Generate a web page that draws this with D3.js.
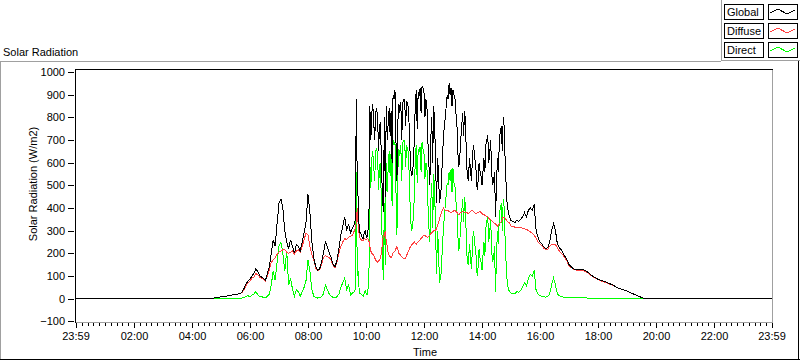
<!DOCTYPE html>
<html>
<head>
<meta charset="utf-8">
<script src="https://cdn.jsdelivr.net/npm/d3@7"></script>
<style>
  html, body { margin: 0; padding: 0; background: #fff; }
  svg { display: block; }
  text { font-family: "Liberation Sans", Arial, sans-serif; font-size: 11px; fill: #000; }
</style>
</head>
<body>
<svg id="chart" width="800" height="361"></svg>
<script>
// ---------------- DATA ----------------
const chartTitle = "Solar Radiation";
const yTitle = "Solar Radiation (W/m2)";
const xTitle = "Time";
const seriesNames = ["Global", "Diffuse", "Direct"];
const seriesColors = ["#000000", "#ff4040", "#00ff00"];
const yTicks = [-100, 0, 100, 200, 300, 400, 500, 600, 700, 800, 900, 1000];
const xTickLabels = ["23:59","02:00","04:00","06:00","08:00","10:00","12:00","14:00","16:00","18:00","20:00","22:00","23:59"];

const times = [
"00:00","04:36","04:40","04:44","04:48","04:52","04:56",
"05:00","05:04","05:08","05:12","05:16","05:20","05:24","05:28","05:32","05:36","05:40","05:44","05:48","05:52","05:56",
"06:00","06:04","06:08","06:12","06:16","06:20","06:24","06:28","06:32","06:36","06:40","06:44","06:48","06:52","06:56",
"07:00","07:04","07:08","07:12","07:16","07:20","07:24","07:28","07:32","07:36","07:40","07:44","07:48","07:52","07:56",
"08:00","08:04","08:08","08:12","08:16","08:20","08:24","08:28","08:32","08:36","08:40","08:44","08:48","08:52","08:56",
"09:00","09:04","09:08","09:12","09:16","09:20","09:24","09:28","09:32",
"09:36","09:38","09:40","09:42","09:44","09:46","09:48","09:50","09:52","09:54","09:56","09:58",
"10:00","10:02","10:04","10:06","10:08","10:10","10:12","10:14","10:16","10:18","10:20","10:22","10:24","10:26","10:28",
"10:30","10:32","10:34","10:36","10:38","10:40","10:42","10:44","10:46","10:48","10:50","10:52","10:54","10:56","10:58",
"11:00","11:02","11:04","11:06","11:08","11:10","11:12","11:14","11:16","11:18","11:20","11:22","11:24","11:26","11:28",
"11:30","11:32","11:34","11:36","11:38","11:40","11:42","11:44","11:46","11:48","11:50","11:52","11:54","11:56","11:58",
"12:00","12:02","12:04","12:06","12:08","12:10","12:12","12:14","12:16","12:18","12:20","12:22","12:24","12:26","12:28",
"12:30","12:32","12:34","12:36","12:38","12:40","12:42","12:44","12:46","12:48","12:50","12:52","12:54","12:56","12:58",
"13:00","13:02","13:04","13:06","13:08","13:10","13:12","13:14","13:16","13:18","13:20","13:22","13:24","13:26","13:28",
"13:30","13:32","13:34","13:36","13:38","13:40","13:42","13:44","13:46","13:48","13:50","13:52","13:54","13:56","13:58",
"14:00","14:02","14:04","14:06","14:08","14:10","14:12","14:14","14:16","14:18","14:20","14:22","14:24","14:26","14:28",
"14:30","14:32","14:34","14:36","14:38","14:40","14:42","14:44","14:46","14:48","14:50","14:52","14:54","14:56","14:58",
"15:00","15:04","15:08","15:12","15:16","15:20","15:24","15:28","15:32","15:36","15:40","15:44","15:48","15:52","15:56",
"16:00","16:04","16:08","16:12","16:16","16:20","16:24","16:28","16:32","16:36","16:40","16:44","16:48","16:52","16:56",
"17:00","17:10","17:20","17:30","17:40","17:50",
"18:00","18:10","18:20","18:30","18:40","18:50",
"19:00","19:10","19:20","19:30","19:36","23:59"
];

const globalVals = [
0,0,0,1,3,5,6,
8,9,10,11,13,14,16,17,18,20,22,30,45,65,78,
85,100,110,130,120,100,95,88,80,110,140,200,260,230,330,
420,440,400,300,250,220,260,230,200,240,230,210,250,290,340,
460,380,250,180,140,125,130,160,200,250,230,200,180,150,140,
170,220,280,320,360,300,330,290,310,
330,350,880,500,440,300,290,285,270,265,285,300,
280,270,300,320,850,700,820,860,780,700,820,840,800,650,760,
780,600,450,380,800,450,850,700,780,840,720,830,600,900,880,
920,700,520,780,860,820,870,700,860,880,880,760,870,860,840,
720,600,540,550,600,700,860,920,750,910,900,930,820,940,930,
910,800,880,860,700,600,500,700,800,600,850,780,600,420,620,
560,420,450,500,620,700,760,800,850,900,880,950,900,930,850,
920,900,890,820,780,650,580,620,700,760,820,720,830,780,600,
540,520,620,580,520,600,680,650,600,560,480,520,600,560,540,
500,560,620,560,680,700,720,600,640,700,560,500,520,560,360,
500,620,560,700,740,760,650,800,760,600,500,420,390,370,355,
345,340,335,345,340,350,360,380,360,390,400,390,415,300,270,
250,240,228,220,225,250,300,330,300,240,225,215,200,185,170,
150,130,127,127,115,97,
85,77,70,60,48,40,
33,23,14,5,0,0
];

const diffuseVals = [
0,0,0,1,3,5,6,
8,9,10,11,13,14,16,17,18,20,21,28,40,58,70,
78,90,95,110,105,95,88,85,78,100,125,160,170,180,195,
205,210,215,215,205,200,205,210,195,210,215,205,230,260,290,
280,230,195,170,135,123,128,150,180,190,185,180,170,145,135,
160,200,230,250,265,260,270,275,280,
300,310,340,400,320,280,265,260,255,255,265,262,
260,262,265,255,230,210,200,195,190,180,170,165,160,165,170,
180,200,250,280,280,300,250,230,200,190,185,180,190,200,205,
210,220,230,215,200,195,190,185,180,178,175,180,190,200,210,
220,230,235,240,245,250,245,240,245,250,255,260,265,270,275,
280,278,275,272,270,275,280,285,290,295,300,300,300,310,320,
335,350,365,380,390,400,395,390,390,390,388,385,382,380,382,
385,388,390,385,380,375,370,375,380,382,385,383,380,380,380,
378,375,380,385,388,390,385,380,378,375,378,380,383,385,380,
375,372,370,368,365,362,360,355,350,348,345,340,335,332,330,
325,320,325,330,335,340,350,360,358,355,348,340,338,335,328,
320,320,315,315,312,314,310,308,305,300,295,288,280,265,250,
240,232,222,215,218,230,240,240,238,225,210,200,190,178,165,
145,127,124,124,112,95,
83,75,68,58,47,40,
33,23,14,5,0,0
];

const directVals = [
0,0,0,0,0,0,0,
0,0,0,0,0,0,0,0,0,0,0,2,5,10,12,
8,15,20,30,18,8,8,5,3,10,20,60,120,80,160,
230,250,200,120,210,60,90,40,10,40,30,10,30,50,80,
170,120,40,10,5,2,3,8,20,60,40,20,10,5,3,
8,20,50,70,90,40,60,15,25,
30,40,560,100,120,30,20,20,15,10,20,35,
25,15,40,60,600,490,620,650,580,520,650,660,640,480,590,
600,400,200,80,420,150,600,470,580,650,540,650,410,700,680,
690,480,280,570,660,630,680,520,690,700,700,580,680,660,640,
500,370,300,310,360,450,620,680,510,660,650,670,560,690,660,
640,530,600,590,430,320,250,420,510,310,550,480,300,110,300,
230,70,90,120,230,300,360,410,460,510,500,560,520,570,470,
575,510,500,430,400,280,210,250,320,380,440,340,450,400,220,
160,150,240,200,130,210,300,270,220,185,100,140,220,175,160,
125,190,250,190,310,340,360,250,290,350,210,160,180,230,30,
180,300,240,370,400,420,300,440,400,250,150,80,50,35,28,
25,20,20,30,28,35,50,70,55,90,105,100,125,35,20,
12,10,8,6,8,20,60,90,60,20,12,8,6,5,4,
4,3,3,3,2,2,
2,1,2,1,1,1,
1,1,1,0,0,0
];

// ---------------- CHART ----------------
const svg = d3.select("#chart");
const W = 800, H = 361;
const plot = { left: 75, right: 772, top: 70, bottom: 322 };

const parseT = d3.timeParse("%Y-%m-%d %H:%M");
const day = "2000-01-02";
const toDate = s => parseT(day + " " + s);
const xStart = parseT("2000-01-01 23:59");
const xEnd = parseT("2000-01-02 23:59");

const x = d3.scaleTime().domain([xStart, xEnd]).range([75.5, 771.5]);
const y = d3.scaleLinear().domain([-100, 1000]).range([321.14, 72.14]);

// outer frame
svg.append("rect").attr("x", 0).attr("y", 0).attr("width", W).attr("height", H).attr("fill", "#fff");
const frame = svg.append("g").attr("shape-rendering", "crispEdges");
frame.append("line").attr("x1", 0).attr("x2", 721).attr("y1", 61.5).attr("y2", 61.5).attr("stroke", "#a0a0a0");
frame.append("line").attr("x1", 721.5).attr("x2", 721.5).attr("y1", 0).attr("y2", 61).attr("stroke", "#a0a0a0");
frame.append("line").attr("x1", 721).attr("x2", 800).attr("y1", 60.5).attr("y2", 60.5).attr("stroke", "#a0a0a0");
frame.append("line").attr("x1", 0.5).attr("x2", 0.5).attr("y1", 61).attr("y2", 360).attr("stroke", "#a0a0a0");
frame.append("line").attr("x1", 0).attr("x2", 800).attr("y1", 359.5).attr("y2", 359.5).attr("stroke", "#000");
frame.append("line").attr("x1", 798.5).attr("x2", 798.5).attr("y1", 61).attr("y2", 360).attr("stroke", "#000");

// title
svg.append("text").attr("x", 3).attr("y", 56).text(chartTitle);

// plot frame
const pf = svg.append("g").attr("shape-rendering", "crispEdges");
pf.append("line").attr("x1", plot.left).attr("x2", plot.right + 1).attr("y1", 69.5).attr("y2", 69.5).attr("stroke", "#000");
pf.append("line").attr("x1", plot.right + 0.5).attr("x2", plot.right + 0.5).attr("y1", 70).attr("y2", 322).attr("stroke", "#a0a0a0");
pf.append("line").attr("x1", plot.left).attr("x2", plot.right + 1).attr("y1", 322.5).attr("y2", 322.5).attr("stroke", "#a0a0a0");
pf.append("line").attr("x1", 75.5).attr("x2", 75.5).attr("y1", 69).attr("y2", 323).attr("stroke", "#000");

// y axis
const yAxis = d3.axisLeft(y).tickValues(yTicks).tickSize(6).tickPadding(3).tickFormat(d3.format("d"));
const gy = svg.append("g").attr("transform", "translate(74,0)").attr("shape-rendering", "crispEdges").call(yAxis);
gy.select(".domain").remove();
gy.selectAll("text").attr("font-size", null).attr("font-family", null).style("font-size", "11px");

// x axis (major)
const majorTicks = xTickLabels.map((s, i) => i === 0 ? xStart : (i === xTickLabels.length - 1 ? xEnd : toDate(s)));
const xAxis = d3.axisBottom(x).tickValues(majorTicks).tickSize(5).tickPadding(4).tickFormat((d, i) => xTickLabels[i]);
const gx = svg.append("g").attr("transform", "translate(0,323)").attr("shape-rendering", "crispEdges").call(xAxis);
gx.select(".domain").remove();
gx.selectAll("text").attr("font-size", null).attr("font-family", null).style("font-size", "11px");

// x axis (minor, every 12 minutes)
const minorTicks = d3.timeMinute.every(12).range(parseT("2000-01-02 00:12"), xEnd)
  .filter(d => d.getMinutes() !== 0 || d.getHours() % 2 !== 0);
const xMinor = d3.axisBottom(x).tickValues(minorTicks).tickSize(3).tickFormat("");
const gxm = svg.append("g").attr("transform", "translate(0,323)").attr("shape-rendering", "crispEdges").call(xMinor);
gxm.select(".domain").remove();

// axis titles
svg.append("text").attr("x", 425).attr("y", 356).attr("text-anchor", "middle").text(xTitle);
svg.append("text").attr("transform", "translate(37,184) rotate(-90)").attr("text-anchor", "middle").text(yTitle);

// data lines
const seriesVals = [globalVals, diffuseVals, directVals];
const dates = times.map(toDate);
const line = d3.line().x(d => x(d[0])).y(d => y(d[1]));
const lines = svg.append("g");
[2, 1, 0].forEach(si => {
  const pts = dates.map((d, i) => [d, seriesVals[si][i]]);
  lines.append("path").datum(pts)
    .attr("d", line)
    .attr("fill", "none")
    .attr("stroke", seriesColors[si])
    .attr("stroke-width", 1)
    .attr("shape-rendering", "crispEdges");
});

// legend
const leg = svg.append("g").attr("shape-rendering", "crispEdges");
seriesNames.forEach((name, i) => {
  const y0 = 4 + i * 19;
  leg.append("rect").attr("x", 724.5).attr("y", y0 + 0.5).attr("width", 39).attr("height", 15)
    .attr("fill", "#fff").attr("stroke", "#000");
  leg.append("text").attr("x", 727).attr("y", y0 + 12).text(name);
  leg.append("rect").attr("x", 768.5).attr("y", y0 + 0.5).attr("width", 29).attr("height", 15)
    .attr("fill", "#fff").attr("stroke", "#000");
  const sw = [[770, 9], [778, 5], [787, 10], [795, 6]].map(p => [p[0], y0 + p[1]]);
  leg.append("path").attr("d", d3.line()(sw)).attr("fill", "none")
    .attr("stroke", seriesColors[i]).attr("stroke-width", 1);
});
</script>
</body>
</html>
